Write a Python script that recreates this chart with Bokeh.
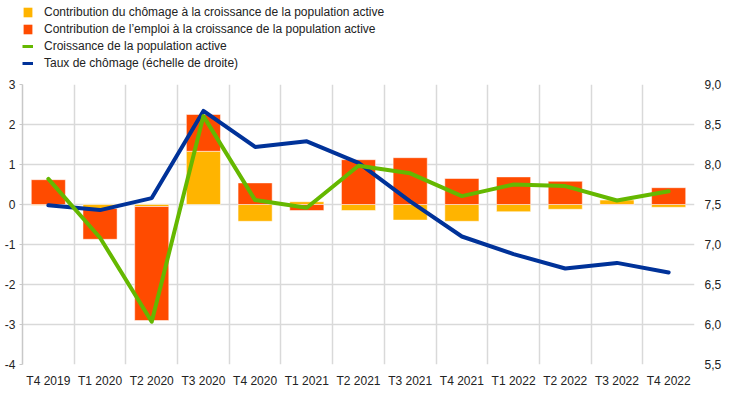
import numpy as np
from bokeh.plotting import figure
from bokeh.layouts import column
from bokeh.models import (Range1d, LinearAxis, FixedTicker, Legend, LegendItem,
                          ColumnDataSource, CustomJSTickFormatter)
from bokeh.embed import file_html
from bokeh.resources import INLINE

quarters = ["T4 2019", "T1 2020", "T2 2020", "T3 2020", "T4 2020", "T1 2021", "T2 2021",
            "T3 2021", "T4 2021", "T1 2022", "T2 2022", "T3 2022", "T4 2022"]
unemp_contrib = [-0.02, -0.10, -0.05, 1.33, -0.42, 0.07, -0.15, -0.39, -0.42, -0.18, -0.12, 0.11, -0.07]
emp_contrib = [0.62, -0.77, -2.85, 0.92, 0.54, -0.15, 1.12, 1.17, 0.65, 0.69, 0.58, -0.01, 0.42]
lf_growth = [0.64, -0.83, -2.93, 2.21, 0.11, -0.08, 0.97, 0.78, 0.21, 0.50, 0.46, 0.10, 0.33]
unemp_rate = [7.49, 7.43, 7.58, 8.67, 8.22, 8.29, 8.02, 7.54, 7.10, 6.88, 6.70, 6.77, 6.65]
left_ticks = [-4, -3, -2, -1, 0, 1, 2, 3]
right_ticks = [5.5, 6.0, 6.5, 7.0, 7.5, 8.0, 8.5, 9.0]
legend_labels = ["Contribution du chômage à la croissance de la population active",
                 "Contribution de l’emploi à la croissance de la population active",
                 "Croissance de la population active",
                 "Taux de chômage (échelle de droite)"]

YELLOW = "#FFB400"
RED = "#FF4B00"
GREEN = "#65B800"
BLUE = "#003299"
FONT = "Liberation Sans"
TXT = "#222222"
GRID = "#d9d9d9"
LEFT = 22

x = np.arange(len(quarters))

# stacking (positives upward, negatives downward)
pos = np.zeros(len(x))
neg = np.zeros(len(x))
stacks = []
for vals in (unemp_contrib, emp_contrib):
    v = np.array(vals)
    bottom = np.where(v >= 0, pos, neg)
    top = bottom + v
    pos = np.where(v >= 0, top, pos)
    neg = np.where(v < 0, top, neg)
    stacks.append((bottom, top))

p = figure(frame_width=672, frame_height=280,
           x_range=Range1d(-0.5, len(x) - 0.5), y_range=Range1d(-4, 3),
           output_backend="svg", toolbar_location=None,
           min_border_left=LEFT, min_border_right=0, min_border_top=12, min_border_bottom=0)
p.extra_y_ranges = {"rate": Range1d(5.5, 9.0)}
p.outline_line_color = None
p.background_fill_color = "white"

bar_kw = dict(width=0.66, line_color="white", line_alpha=0.5, line_width=1)
src_u = ColumnDataSource(dict(x=x, bottom=stacks[0][0], top=stacks[0][1]))
src_e = ColumnDataSource(dict(x=x, bottom=stacks[1][0], top=stacks[1][1]))
p.vbar(x="x", bottom="bottom", top="top", source=src_u, fill_color=YELLOW, **bar_kw)
p.vbar(x="x", bottom="bottom", top="top", source=src_e, fill_color=RED, **bar_kw)
p.line(x, unemp_rate, y_range_name="rate", line_color=BLUE, line_width=4,
       line_join="round", line_cap="round")
p.line(x, lf_growth, line_color=GREEN, line_width=4, line_join="round", line_cap="round")

# axes
p.xaxis.ticker = FixedTicker(ticks=list(x))
p.xaxis.formatter = CustomJSTickFormatter(args=dict(labels=quarters),
                                          code="return labels[Math.round(tick)]")
p.xaxis.axis_line_color = None
p.xaxis.major_tick_line_color = None
p.xaxis.minor_tick_line_color = None
p.xaxis.major_label_standoff = 3

p.yaxis.ticker = FixedTicker(ticks=left_ticks)
p.yaxis.formatter = CustomJSTickFormatter(code="return tick.toFixed(0)")
p.yaxis.axis_line_color = "#c8c8c8"
p.yaxis.axis_line_width = 1.5
p.yaxis.major_tick_line_color = "#c8c8c8"
p.yaxis.major_tick_in = 0
p.yaxis.major_tick_out = 3
p.yaxis.minor_tick_line_color = None
p.yaxis.major_label_standoff = 4

right = LinearAxis(y_range_name="rate", ticker=FixedTicker(ticks=right_ticks),
                   formatter=CustomJSTickFormatter(code="return tick.toFixed(1).replace('.', ',')"))
right.axis_line_color = None
right.major_tick_line_color = None
right.minor_tick_line_color = None
right.major_label_standoff = 4
p.add_layout(right, "right")

for ax in (p.xaxis[0], p.yaxis[0], right):
    ax.major_label_text_font = FONT
    ax.major_label_text_font_size = "12px"
    ax.major_label_text_color = TXT

p.xgrid.ticker = FixedTicker(ticks=[i + 0.5 for i in x])
p.xgrid.grid_line_color = GRID
p.xgrid.grid_line_width = 1.5
p.ygrid.grid_line_color = GRID
p.ygrid.grid_line_width = 1.5

# legend strip above the chart (series drawn outside its visible range, only the legend shows)
lg = figure(width=720, height=72, x_range=Range1d(0, 1), y_range=Range1d(100, 101),
            output_backend="svg", toolbar_location=None, x_axis_type=None, y_axis_type=None,
            min_border_left=0, min_border_right=0, min_border_top=0, min_border_bottom=0)
lg.outline_line_color = None
lg.xgrid.visible = False
lg.ygrid.visible = False
l_u = lg.vbar(x="x", bottom="bottom", top="top", width=0.5, source=src_u, fill_color=YELLOW, line_color=None)
l_e = lg.vbar(x="x", bottom="bottom", top="top", width=0.5, source=src_e, fill_color=RED, line_color=None)
l_g = lg.line(x, lf_growth, line_color=GREEN, line_width=3)
l_b = lg.line(x, unemp_rate, line_color=BLUE, line_width=3)

legend = Legend(items=[LegendItem(label=t, renderers=[r]) for t, r in
                       zip(legend_labels, [l_u, l_e, l_g, l_b])],
                location=(0, 2), orientation="vertical")
legend.label_text_font = FONT
legend.label_text_font_size = "12px"
legend.label_text_color = TXT
legend.glyph_width = 11
legend.glyph_height = 12
legend.label_standoff = 11
legend.label_height = 15
legend.spacing = 2
legend.padding = 0
legend.margin = 0
legend.border_line_color = None
legend.background_fill_alpha = 0
lg.add_layout(legend, "center")

layout = column(lg, p, spacing=0)
open("out.html", "w").write(file_html(layout, INLINE))
